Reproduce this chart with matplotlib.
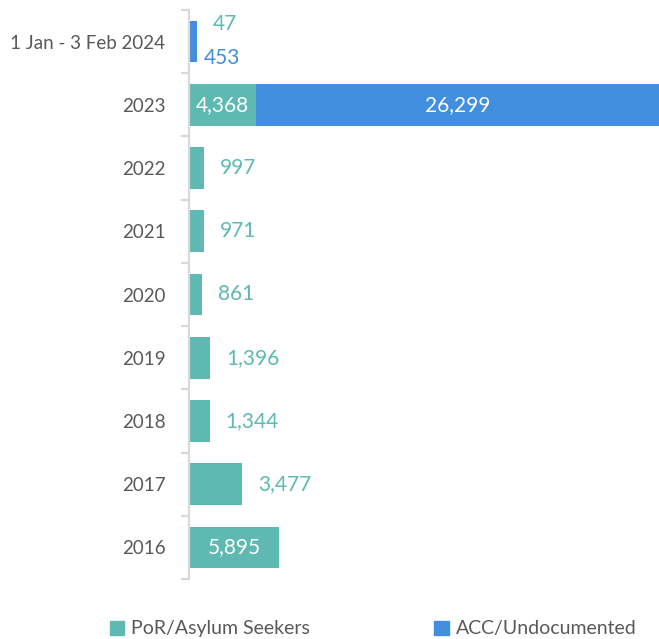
import matplotlib
matplotlib.use("Agg")
import matplotlib.pyplot as plt
import numpy as np
from matplotlib.patches import Patch

plt.rcParams['font.family'] = ['Lato', 'DejaVu Sans']

categories = ["1 Jan - 3 Feb 2024", "2023", "2022", "2021", "2020", "2019", "2018", "2017", "2016"]
por = [47, 4368, 997, 971, 861, 1396, 1344, 3477, 5895]
acc = [453, 26299, 0, 0, 0, 0, 0, 0, 0]

teal = "#5DB9B2"
blue = "#418FDE"
gray_text = "#595959"

fig = plt.figure(figsize=(6.59, 6.39), dpi=100)
ax = fig.add_axes([189/659, 1-579/639, 1-189/659, (579-10)/639])

y = np.arange(len(categories))
h = 0.66
ax.barh(y, por, height=h, color=teal)
ax.barh(y, acc, height=h, left=por, color=blue)

ax.set_ylim(len(categories)-0.5, -0.5)
ax.set_xlim(0, por[1] + acc[1])

fs = 15
for i, (p, a) in enumerate(zip(por, acc)):
    if i == 0:
        ax.annotate(f"{p:,}", xy=(p + a, i), xytext=(20, 13), textcoords="offset points",
                    ha="center", va="center", color=teal, fontsize=fs)
        ax.annotate(f"{a:,}", xy=(p + a, i), xytext=(18, -12), textcoords="offset points",
                    ha="center", va="center", color=blue, fontsize=fs)
    elif a > 0:
        ax.text(p / 2, i, f"{p:,}", ha="center", va="center", color="white", fontsize=fs)
        ax.text(p + a / 2, i, f"{a:,}", ha="center", va="center", color="white", fontsize=fs)
    elif p > 5000:
        ax.text(p / 2, i, f"{p:,}", ha="center", va="center", color="white", fontsize=fs)
    else:
        ax.annotate(f"{p:,}", xy=(p, i), xytext=(11.5, 0), textcoords="offset points",
                    ha="left", va="center", color=teal, fontsize=fs)

for s in ["top", "right", "bottom"]:
    ax.spines[s].set_visible(False)
ax.spines["left"].set_color("#D9D9D9")
ax.spines["left"].set_linewidth(1.6)

ax.set_yticks(y)
ax.set_yticklabels(categories, fontsize=13.5, color=gray_text)
ax.tick_params(axis="y", which="major", length=0, pad=17)
ax.set_yticks(np.arange(-0.5, len(categories), 1), minor=True)
ax.tick_params(axis="y", which="minor", length=6, width=1.6, color="#D9D9D9")
ax.set_xticks([])

handles = [Patch(color=teal, label="PoR/Asylum Seekers"), Patch(color=blue, label="ACC/Undocumented")]
fig.legend(handles=handles, loc="lower left", bbox_to_anchor=(92/659, -0.025), ncol=2,
           frameon=False, fontsize=14, labelcolor=gray_text, handlelength=0.75, handleheight=0.75,
           handletextpad=0.35, columnspacing=6.4)

fig.savefig("out.png", dpi=100)
